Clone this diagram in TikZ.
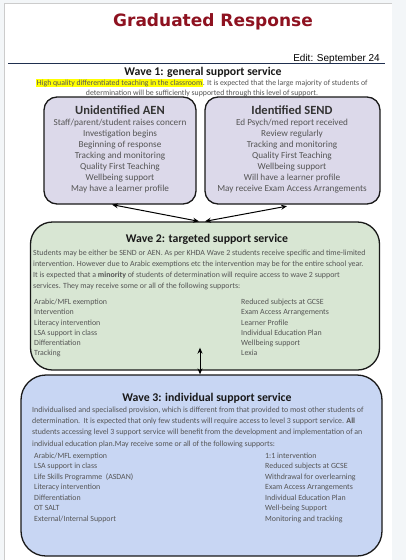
\documentclass[tikz,border=0pt]{standalone}
\usepackage{fontspec}
\setmainfont{Carlito}
\newfontfamily\verd{DejaVu Sans}
\newfontfamily\arial{Liberation Sans}
\usetikzlibrary{arrows.meta,calc}
\definecolor{pagebg}{HTML}{F3F6F8}
\definecolor{titlered}{HTML}{8E1220}
\definecolor{rulenavy}{HTML}{1F2F4F}
\definecolor{bodygray}{HTML}{555555}
\definecolor{lav}{HTML}{DCD9EA}
\definecolor{sage}{HTML}{D8E6D3}
\definecolor{sky}{HTML}{C8D6F3}
\definecolor{hl}{HTML}{FFFF00}
\tikzset{
  wbox/.style={draw=black!90, line width=1.3pt},
  arr/.style={{Stealth[length=6pt,width=5pt]}-{Stealth[length=6pt,width=5pt]}, line width=1pt, black},
  body/.style={text=bodygray, inner sep=0pt, align=left, anchor=north west},
  btxt/.style={text=bodygray, inner sep=0pt, align=center, anchor=north, font=\fontsize{9.2}{11}\selectfont},
  btitle/.style={inner sep=0pt, text=black!80, font=\bfseries\fontsize{12.5}{14}\selectfont},
  wtitle/.style={inner sep=0pt, text=black!90, font=\bfseries\fontsize{11.8}{13}\selectfont},
}
\begin{document}
\begin{tikzpicture}[x=1pt,y=-1pt]
\useasboundingbox (0,0) rectangle (406,560);
\fill[pagebg] (0,0) rectangle (406,560);
\fill[white] (4,3) rectangle (392,560);
\draw[black!20, line width=0.5pt] (4,560) -- (4,3) -- (392,3);
% title
\node[inner sep=0pt, text=titlered, font=\verd\bfseries\fontsize{17}{20}\selectfont] (title) at (213,22) {Graduated Response};
\node[inner sep=0pt, anchor=east, font=\arial\fontsize{10}{12}\selectfont] (edit) at (380,58.5) {Edit: September 24};
\draw[rulenavy, line width=1pt] (8,63.5) -- (385,63.5);
% wave 1
\node[wtitle] (w1t) at (203,72) {Wave 1: general support service};
\node[text=bodygray, inner sep=0pt, align=center, font=\fontsize{7.8}{10}\selectfont] (w1p) at (202,88) {{\setlength{\fboxsep}{0.5pt}\colorbox{hl}{High quality differentiated teaching in the classroom}}. It is expected that the large majority of students of\\determination will be sufficiently supported through this level of support.};
\node[wbox, fill=lav, rounded corners=13pt, minimum width=152pt, minimum height=107pt] (aen) at (120,150.5) {};
\node[wbox, fill=lav, rounded corners=13pt, minimum width=175pt, minimum height=107pt] (send) at (292.5,150.5) {};
\node[btitle] (aent) at (120,110) {Unidentified AEN};
\node[btxt] (aenl) at (120,118.5) {Staff/parent/student raises concern\\Investigation begins\\Beginning of response\\Tracking and monitoring\\Quality First Teaching\\Wellbeing support\\May have a learner profile};
\node[btitle] (sendt) at (292,110) {Identified SEND};
\node[btxt] (sendl) at (292,118.5) {Ed Psych/med report received\\Review regularly\\Tracking and monitoring\\Quality First Teaching\\Wellbeing support\\Will have a learner profile\\May receive Exam Access Arrangements};
% wave 2
\node[wbox, fill=sage, rounded corners=22pt, minimum width=349pt, minimum height=148pt] (w2) at (205,296) {};
\node[wtitle] (w2t) at (207,239) {Wave 2: targeted support service};
\node[body, font=\fontsize{7.9}{11.1}\selectfont] (w2p) at (33,249.5) {Students may be either be SEND or AEN. As per KHDA Wave 2 students receive specific and time-limited\\intervention. However due to Arabic exemptions etc the intervention may be for the entire school year.\\It is expected that a \textbf{minority} of students of determination will require access to wave 2 support\\services. They may receive some or all of the following supports:};
\node[body, font=\fontsize{7.9}{10.2}\selectfont] (w2a) at (34,299) {Arabic/MFL exemption\\Intervention\\Literacy intervention\\LSA support in class\\Differentiation\\Tracking};
\node[body, font=\fontsize{7.9}{10.2}\selectfont] (w2b) at (241,299) {Reduced subjects at GCSE\\Exam Access Arrangements\\Learner Profile\\Individual Education Plan\\Wellbeing support\\Lexia};
% wave 3
\node[wbox, fill=sky, rounded corners=25pt, minimum width=361pt, minimum height=181pt] (w3) at (201.5,465.5) {};
\node[wtitle] (w3t) at (207,398) {Wave 3: individual support service};
\node[body, font=\fontsize{7.9}{11.3}\selectfont] (w3p) at (32,406.5) {Individualised and specialised provision, which is different from that provided to most other students of\\determination.\ \ It is expected that only few students will require access to level 3 support service. \textbf{All}\\students accessing level 3 support service will benefit from the development and implementation of an\\individual education plan.May receive some or all of the following supports:};
\node[body, font=\fontsize{7.9}{10.5}\selectfont] (w3a) at (34,452.5) {Arabic/MFL exemption\\LSA support in class\\Life Skills Programme\ \ (ASDAN)\\Literacy intervention\\Differentiation\\OT SALT\\External/Internal Support};
\node[body, font=\fontsize{7.9}{10.5}\selectfont] (w3b) at (265,452.5) {1:1 intervention\\Reduced subjects at GCSE\\Withdrawal for overlearning\\Exam Access Arrangements\\Individual Education Plan\\Well-being Support\\Monitoring and tracking};
% connectors
\draw[arr] ($(aen.south)+(-8,0)$) -- ($(w2.north)+(-6,0)$);
\draw[arr] ($(send.south)+(-5.5,1.5)$) -- ($(w2.north)+(0,0)$);
\draw[arr] ($(w2.south)+(-5,-23)$) -- ($(w3.north)+(-1.5,0)$);
\end{tikzpicture}
\end{document}
